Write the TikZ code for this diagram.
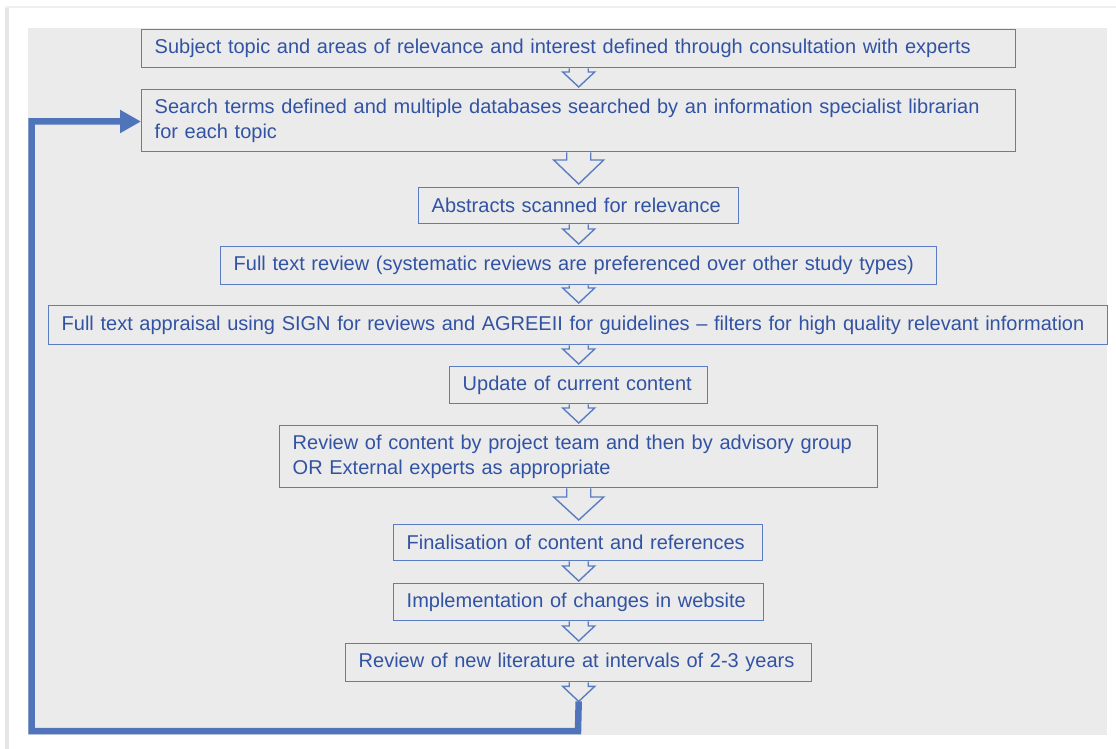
\documentclass[tikz,border=0pt]{standalone}
\usepackage{fontspec}
\setmainfont{Liberation Sans}
\usetikzlibrary{calc,arrows.meta}
\definecolor{panel}{HTML}{EBEBEB}
\definecolor{boxline}{HTML}{5A7DC2}
\definecolor{txt}{HTML}{3253A3}
\definecolor{loopc}{HTML}{5074B9}
\definecolor{shadowc}{HTML}{E6E6E6}
\newcommand{\blockarr}[5]{% from node, tip coordinate, shaft half, head half, head length
  \draw[flowarr] (#2 |- #1.south) ++(-#3,0) -- ($(#2)+(-#3,-#5)$) -- ($(#2)+(-#4,-#5)$) -- (#2)
    -- ($(#2)+(#4,-#5)$) -- ($(#2)+(#3,-#5)$) -- ($(#2 |- #1.south)+(#3,0)$);}
\begin{document}
\begin{tikzpicture}[x=1pt,y=-1pt,
  box/.style={draw=boxline, line width=1.4pt, text=txt, anchor=north west,
    inner xsep=13pt, inner ysep=0pt, align=left,
    font=\fontsize{20}{25}\selectfont},
  flowarr/.style={draw=boxline, line width=1.4pt, fill=panel, line join=miter},
  loopline/.style={draw=loopc, line width=6.5pt, line join=miter}]
\useasboundingbox (0,0) rectangle (1116,749);
\fill[white] (0,0) rectangle (1116,749);
\fill[shadowc] (5,8) rectangle (8.5,749);
\fill[shadowc!60] (5,6) rectangle (1116,8.5);
\fill[panel] (27.5,28) rectangle (1107,735);
% boxes
\node[box, text width=848pt, minimum height=38pt] (b1) at (141,29)
  {Subject topic and areas of relevance and interest defined through consultation with experts};
\node[box, text width=848pt, minimum height=62pt] (b2) at (141,89)
  {Search terms defined and multiple databases searched by an information specialist librarian\\for each topic};
\node[box, text width=294pt, minimum height=36pt] (b3) at (418,187)
  {Abstracts scanned for relevance};
\node[box, text width=690pt, minimum height=38pt] (b4) at (220,246)
  {Full text review (systematic reviews are preferenced over other study types)};
\node[box, text width=1033pt, minimum height=39pt] (b5) at (48,305)
  {Full text appraisal using SIGN for reviews and AGREEII for guidelines -- filters for high quality relevant information};
\node[box, text width=232pt, minimum height=37pt] (b6) at (449,366)
  {Update of current content};
\node[box, text width=572pt, minimum height=62pt] (b7) at (279,425)
  {Review of content by project team and then by advisory group\\OR External experts as appropriate};
\node[box, text width=343pt, minimum height=36pt] (b8) at (393,524)
  {Finalisation of content and references};
\node[box, text width=344pt, minimum height=37pt] (b9) at (393,583)
  {Implementation of changes in website};
\node[box, text width=440pt, minimum height=38pt] (b10) at (345,643)
  {Review of new literature at intervals of 2-3 years};
% arrow tips
\coordinate (t2) at ($(b2.north)+(0,-2)$);
\coordinate (t3) at ($(b3.north)+(0,-3)$);
\coordinate (t4) at ($(b4.north)+(0,-2)$);
\coordinate (t5) at ($(b5.north)+(0.5,-2)$);
\coordinate (t6) at ($(b6.north)+(0,-2)$);
\coordinate (t7) at ($(b7.north)+(0,-2)$);
\coordinate (t8) at ($(b8.north)+(0.5,-4)$);
\coordinate (t9) at ($(b9.north)+(0,-2)$);
\coordinate (t10) at ($(b10.north)+(0,-2)$);
\coordinate (tl) at ($(b10.south)+(0,19)$);
\blockarr{b1}{t2}{9.5}{16}{15}
\blockarr{b2}{t3}{12}{25}{24}
\blockarr{b3}{t4}{9.5}{16}{15}
\blockarr{b4}{t5}{9.5}{16}{15}
\blockarr{b5}{t6}{9.5}{16}{15}
\blockarr{b6}{t7}{9.5}{16}{15}
\blockarr{b7}{t8}{12}{25}{23}
\blockarr{b8}{t9}{9.5}{16}{15}
\blockarr{b9}{t10}{9.5}{16}{15}
\blockarr{b10}{tl}{9.5}{16}{15}
% feedback loop
\coordinate (lb) at (578,731);
\coordinate (ll) at (31.5,731);
\coordinate (lt) at (31.5,121.5);
\draw[loopline, -{Triangle[length=21pt,width=22pt]}] (tl) -- (lb) -- (ll) -- (lt) -- (lt -| b2.west);
\end{tikzpicture}
\end{document}
